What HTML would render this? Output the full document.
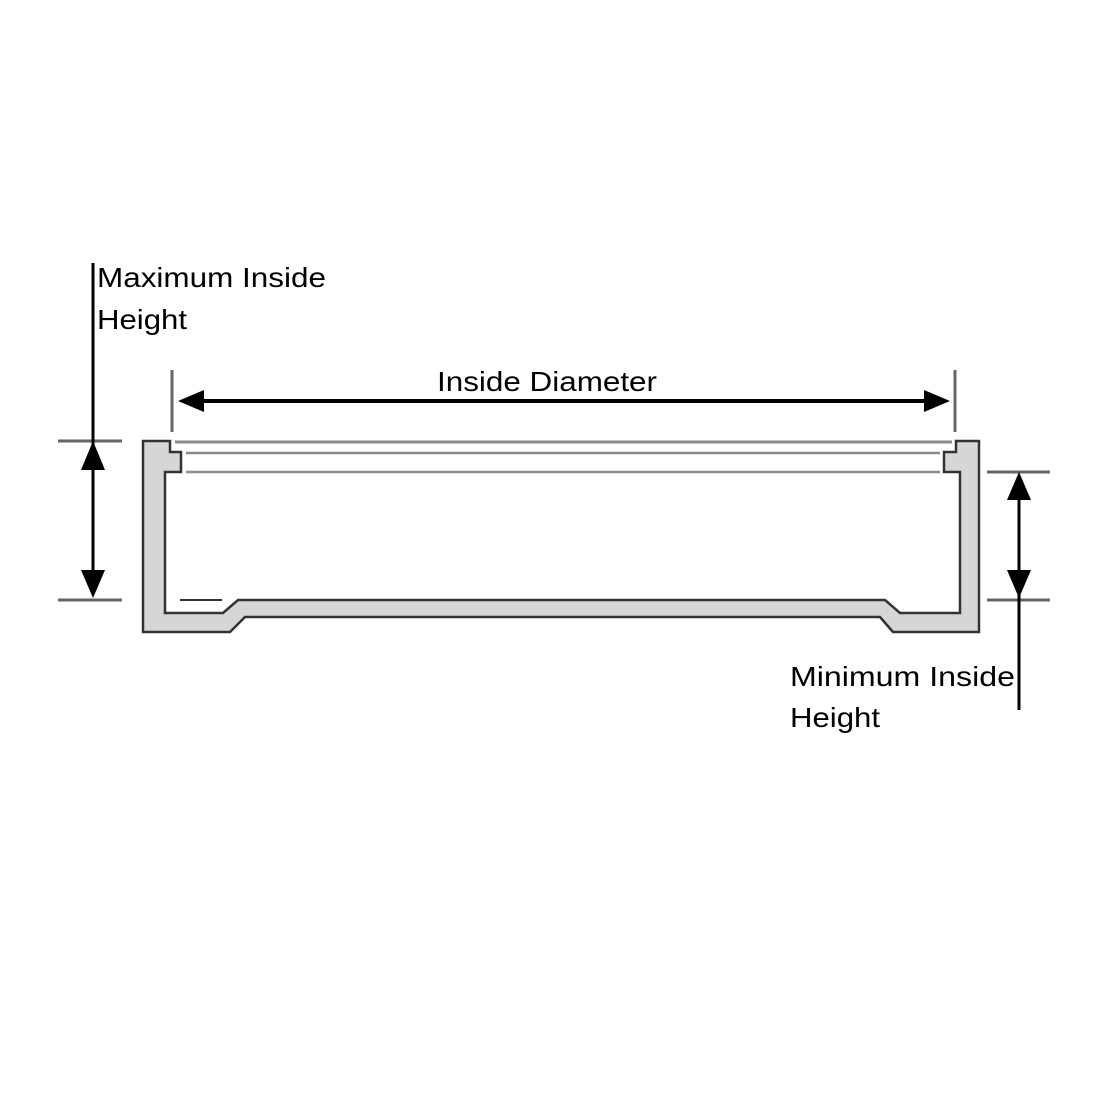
<!DOCTYPE html>
<html><head><style>html,body{margin:0;padding:0;background:#fff}</style></head><body>
<svg width="1100" height="1100" viewBox="0 0 1100 1100" xmlns="http://www.w3.org/2000/svg">
<rect width="1100" height="1100" fill="#fff"/>
<!-- container body -->
<polygon points="143,441 170,441 170,452 181,452 181,472 165,472 165,613 223,613 238,600 885,600 900,613 960,613 960,472 944,472 944,452 956,452 956,441 979,441 979,632 893,632 880,617 245,617 230,632 143,632" fill="#d6d6d6" stroke="#333" stroke-width="2.5" stroke-linejoin="miter"/>
<!-- lid lines -->
<line x1="175" y1="442" x2="952" y2="442" stroke="#8a8a8a" stroke-width="3"/>
<line x1="186" y1="453" x2="940" y2="453" stroke="#8a8a8a" stroke-width="2.5"/>
<line x1="186" y1="472" x2="940" y2="472" stroke="#8a8a8a" stroke-width="2.5"/>
<line x1="180" y1="600" x2="222" y2="600" stroke="#333" stroke-width="2"/>
<!-- left dimension -->
<line x1="58" y1="441" x2="122" y2="441" stroke="#666" stroke-width="3"/>
<line x1="58" y1="600" x2="122" y2="600" stroke="#666" stroke-width="3"/>
<line x1="93" y1="263" x2="93" y2="585" stroke="#000" stroke-width="3"/>
<polygon points="93,441 81,470 105,470" fill="#000"/>
<polygon points="93,598 81,570 105,570" fill="#000"/>
<!-- right dimension -->
<line x1="987" y1="472" x2="1050" y2="472" stroke="#666" stroke-width="3"/>
<line x1="987" y1="600" x2="1050" y2="600" stroke="#666" stroke-width="3"/>
<line x1="1019" y1="485" x2="1019" y2="710" stroke="#000" stroke-width="3"/>
<polygon points="1019,472 1007,500 1031,500" fill="#000"/>
<polygon points="1019,598 1007,570 1031,570" fill="#000"/>
<!-- top dimension -->
<line x1="172" y1="370" x2="172" y2="432" stroke="#666" stroke-width="3"/>
<line x1="955" y1="370" x2="955" y2="432" stroke="#666" stroke-width="3"/>
<line x1="195" y1="401" x2="930" y2="401" stroke="#000" stroke-width="4"/>
<polygon points="178,401 204,390 204,412" fill="#000"/>
<polygon points="950,401 924,390 924,412" fill="#000"/>
<g font-family="Liberation Sans, sans-serif" font-size="28" fill="#000">
<text x="97" y="287" textLength="229" lengthAdjust="spacingAndGlyphs">Maximum Inside</text>
<text x="97" y="329" textLength="90" lengthAdjust="spacingAndGlyphs">Height</text>
<text x="437" y="391" textLength="220" lengthAdjust="spacingAndGlyphs">Inside Diameter</text>
<text x="790" y="686" textLength="225" lengthAdjust="spacingAndGlyphs">Minimum Inside</text>
<text x="790" y="727" textLength="90" lengthAdjust="spacingAndGlyphs">Height</text>
</g>
</svg>
</body></html>
